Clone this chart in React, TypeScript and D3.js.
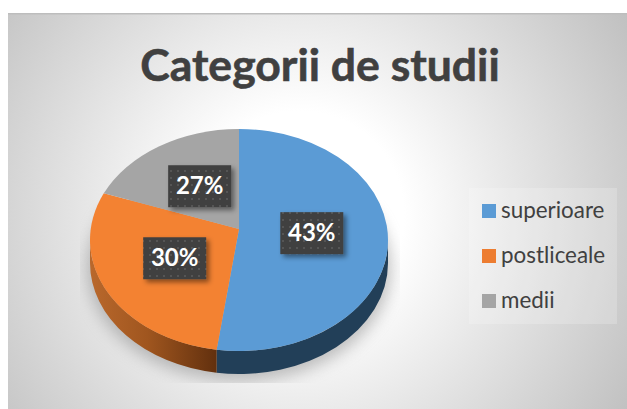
import React from 'react';
import * as d3 from 'd3';

// drawn shares of the slices (the printed labels do not agree with the drawing)
const categories = ['superioare', 'postliceale', 'medii'];
const sliceShares = [52.4, 29.5, 18.1];
const percentLabels = ['43%', '30%', '27%'];
const topColors = ['#5b9bd5', '#f38232', '#a5a5a5'];
const legendColors = ['#5b9bd5', '#ed7d31', '#a5a5a5'];
const title = 'Categorii de studii';

const W = 627;
const H = 409;

// pie geometry: an ellipse seen in perspective, so the hub sits above the ellipse centre
const cx = 239;
const cy = 240;
const rx = 149;
const ry = 111;
const hubY = 229;
const depth = 23;

const point = (a: number, dy = 0): [number, number] => [
  cx + rx * Math.sin(a),
  cy - ry * Math.cos(a) + dy,
];

const arcTo = (a0: number, a1: number, dy = 0, sweep = 1) => {
  const [x, y] = point(a1, dy);
  const large = Math.abs(a1 - a0) > Math.PI ? 1 : 0;
  return `A${rx},${ry} 0 ${large} ${sweep} ${x},${y}`;
};

const slicePath = (a0: number, a1: number) => {
  const [x0, y0] = point(a0);
  return `M${cx},${hubY}L${x0},${y0}${arcTo(a0, a1)}Z`;
};

// side wall is only visible on the front half of the ellipse
const wallPath = (a0: number, a1: number) => {
  const s = Math.max(a0, Math.PI / 2);
  const e = Math.min(a1, (3 * Math.PI) / 2);
  if (e <= s) return null;
  const [x0, y0] = point(s);
  const [x1, y1] = point(e, depth);
  return `M${x0},${y0}${arcTo(s, e)}L${x1},${y1}${arcTo(e, s, depth, 0)}Z`;
};

const arcs = d3.pie<number>().sort(null)(sliceShares);
const color = d3.scaleOrdinal<string, string>().domain(categories).range(topColors);
const legendColor = d3.scaleOrdinal<string, string>().domain(categories).range(legendColors);
const wallFill = d3
  .scaleOrdinal<string, string>()
  .domain(categories)
  .range(['#223f58', 'url(#orangeWall)', '#5c5c5c']);
const legendY = d3.scalePoint<string>().domain(categories).range([211, 301]);

const labelW = 63;
const labelH = 42;
const labelNudge = [-3, 0, 1]; // hand placed in the original

export default function App() {
  return (
    <svg
      width={W}
      height={H}
      style={{ position: 'absolute', left: 0, top: 0, background: '#fff' }}
    >
      <defs>
        <radialGradient
          id="bg"
          gradientUnits="userSpaceOnUse"
          cx={300}
          cy={215}
          r={385}
        >
          <stop offset="0.27" stopColor="#ffffff" />
          <stop offset="1" stopColor="#c0c0c0" />
        </radialGradient>
        <linearGradient id="orangeWall" x1="0" x2="1" y1="0" y2="0">
          <stop offset="0" stopColor="#b9682c" />
          <stop offset="0.45" stopColor="#a0561f" />
          <stop offset="1" stopColor="#62300e" />
        </linearGradient>
        <filter id="soft" x="-20%" y="-20%" width="140%" height="140%">
          <feGaussianBlur stdDeviation="8" />
        </filter>
        <filter id="boxShadow" x="-30%" y="-30%" width="160%" height="160%">
          <feDropShadow dx="3" dy="3" stdDeviation="2.5" floodColor="#000" floodOpacity="0.45" />
        </filter>
        <pattern id="dots" width="7" height="7" patternUnits="userSpaceOnUse">
          <rect width="7" height="7" fill="#3f3f3f" />
          <rect x="2" y="2" width="2" height="2" fill="#555555" />
        </pattern>
        <clipPath id="shadowClip">
          <rect x={80} y={200} width={320} height={183} />
        </clipPath>
      </defs>

      <rect x={8} y={13} width={W - 8} height={H - 13} fill="url(#bg)" />
      <rect x={8} y={13} width={W - 8} height={1.5} fill="#bdbdbd" />

      <text
        x={320}
        y={81}
        textAnchor="middle"
        fontFamily="Lato, sans-serif"
        fontWeight={700}
        fontSize={44.5}
        fill="#404040"
        stroke="#404040"
        strokeWidth={0.6}
      >
        {title}
      </text>

      {/* soft shadow below the pie */}
      <g clipPath="url(#shadowClip)">
        <ellipse
          cx={cx}
          cy={cy + depth + 5}
          rx={rx + 3}
          ry={ry + 2}
          fill="#8a8a8a"
          opacity={0.55}
          filter="url(#soft)"
        />
      </g>

      {arcs.map((d, i) => {
        const p = wallPath(d.startAngle, d.endAngle);
        return p ? <path key={i} d={p} fill={wallFill(categories[i])} /> : null;
      })}
      {arcs.map((d, i) => (
        <path key={i} d={slicePath(d.startAngle, d.endAngle)} fill={color(categories[i])} />
      ))}

      {arcs.map((d, i) => {
        const mid = (d.startAngle + d.endAngle) / 2;
        const x = cx + rx * 0.49 * Math.sin(mid);
        const y = 232 - ry * 0.5 * Math.cos(mid) + labelNudge[i];
        return (
          <g key={i}>
            <rect
              x={x - labelW / 2}
              y={y - labelH / 2}
              width={labelW}
              height={labelH}
              fill="url(#dots)"
              filter="url(#boxShadow)"
            />
            <text
              x={x}
              y={y + 8}
              textAnchor="middle"
              fontFamily="Lato, sans-serif"
              fontWeight={700}
              fontSize={24}
              fill="#fff"
            >
              {percentLabels[i]}
            </text>
          </g>
        );
      })}

      <rect x={469} y={188} width={148} height={136} fill="#fff" fillOpacity={0.2} />
      {categories.map((c) => (
        <g key={c}>
          <rect x={482} y={(legendY(c) as number) - 7} width={14} height={14} fill={legendColor(c)} />
          <text
            x={501}
            y={(legendY(c) as number) + 7}
            fontFamily="Lato, sans-serif"
            fontSize={22.4}
            fill="#404040"
          >
            {c}
          </text>
        </g>
      ))}
    </svg>
  );
}
